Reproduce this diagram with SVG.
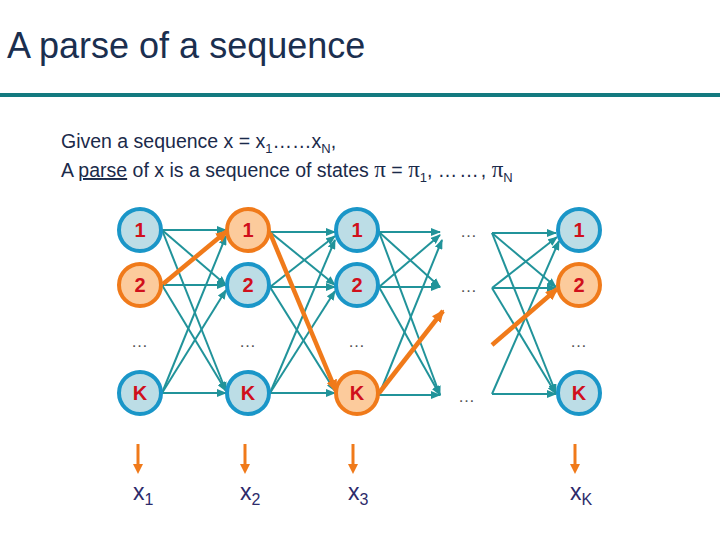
<svg xmlns="http://www.w3.org/2000/svg" width="720" height="540" viewBox="0 0 720 540">
<defs>
<marker id="ah" markerUnits="userSpaceOnUse" markerWidth="10" markerHeight="8" refX="9" refY="4" orient="auto">
<path d="M0,0 L10,4 L0,8 z" fill="#21939a"/>
</marker>
<marker id="ao" markerUnits="userSpaceOnUse" markerWidth="13" markerHeight="11" refX="11" refY="5.5" orient="auto">
<path d="M0,0 L13,5.5 L0,11 z" fill="#f07a1a"/>
</marker>
<style>
.t{font-family:"Liberation Sans",Arial,sans-serif}
.e{stroke:#21939a;stroke-width:2;fill:none;marker-end:url(#ah)}
.o{stroke:#f07a1a;stroke-width:4.5;fill:none;marker-end:url(#ao)}
.nb{fill:#bcdde6;stroke:#1a96c8;stroke-width:4}
.no{fill:#fccb9c;stroke:#f07a1a;stroke-width:4}
.lb{font-family:"Liberation Sans",Arial,sans-serif;font-size:20px;font-weight:bold;fill:#d0101c;text-anchor:middle}
.dt{font-family:"Liberation Sans",Arial,sans-serif;font-size:17px;fill:#555;text-anchor:middle;letter-spacing:1px}
.x{font-family:"Liberation Sans",Arial,sans-serif;font-size:23px;fill:#2d2b6b}
.em{stroke:#f07a1a;stroke-width:3}
.pi{font-family:"Liberation Serif",serif;font-size:23px}
</style>
</defs>
<rect width="720" height="540" fill="#fff"/>
<text class="t" x="7" y="58" font-size="36" fill="#1b2f4f">A parse of a sequence</text>
<rect x="0" y="93" width="720" height="4" fill="#137a7f"/>
<g class="t" font-size="19.5" fill="#1b2a4a">
<text x="61" y="148">Given a sequence x = x<tspan font-size="13" dy="5">1</tspan><tspan dy="-5">……x</tspan><tspan font-size="13" dy="5">N</tspan><tspan dy="-5">,</tspan></text>
<text x="61" y="177">A <tspan text-decoration="underline">parse</tspan> of x is a sequence of states <tspan class="pi">π</tspan> = <tspan class="pi">π</tspan><tspan font-size="13" dy="5">1</tspan><tspan dy="-5">, </tspan><tspan letter-spacing="2">……</tspan><tspan>, </tspan><tspan class="pi">π</tspan><tspan font-size="13" dy="5">N</tspan></text>
</g>
<g id="connectors">
<line class="e" x1="162" y1="230" x2="226" y2="230"/>
<line class="e" x1="162" y1="230" x2="226" y2="285"/>
<line class="e" x1="162" y1="230" x2="226" y2="391"/>
<line class="e" x1="162" y1="285" x2="226" y2="285"/>
<line class="e" x1="162" y1="285" x2="226" y2="391"/>
<line class="e" x1="162" y1="393" x2="226" y2="236"/>
<line class="e" x1="162" y1="393" x2="226" y2="290"/>
<line class="e" x1="162" y1="393" x2="226" y2="393"/>
<line class="e" x1="270" y1="232" x2="335" y2="232"/>
<line class="e" x1="270" y1="232" x2="335" y2="285"/>
<line class="e" x1="270" y1="287" x2="335" y2="236"/>
<line class="e" x1="270" y1="287" x2="335" y2="287"/>
<line class="e" x1="270" y1="287" x2="335" y2="391"/>
<line class="e" x1="270" y1="393" x2="335" y2="240"/>
<line class="e" x1="270" y1="393" x2="335" y2="291"/>
<line class="e" x1="270" y1="393" x2="335" y2="393"/>
<line class="e" x1="379" y1="232" x2="440" y2="232"/>
<line class="e" x1="379" y1="232" x2="440" y2="287"/>
<line class="e" x1="379" y1="232" x2="440" y2="395"/>
<line class="e" x1="379" y1="287" x2="440" y2="235"/>
<line class="e" x1="379" y1="287" x2="440" y2="287"/>
<line class="e" x1="379" y1="287" x2="440" y2="395"/>
<line class="e" x1="379" y1="395" x2="442" y2="240"/>
<line class="e" x1="379" y1="395" x2="440" y2="395"/>
<line class="e" x1="492" y1="233" x2="556" y2="233"/>
<line class="e" x1="492" y1="233" x2="556" y2="287"/>
<line class="e" x1="492" y1="233" x2="556" y2="393"/>
<line class="e" x1="492" y1="288" x2="557" y2="237"/>
<line class="e" x1="492" y1="288" x2="556" y2="288"/>
<line class="e" x1="492" y1="288" x2="556" y2="394"/>
<line class="e" x1="492" y1="394" x2="559" y2="241"/>
<line class="e" x1="492" y1="394" x2="556" y2="394"/>
<line class="o" x1="163" y1="284" x2="227" y2="231"/>
<line class="o" x1="270" y1="233" x2="336" y2="391"/>
<line class="o" x1="379" y1="393" x2="443" y2="311"/>
<line class="o" x1="492" y1="345" x2="557" y2="289"/>
</g>
<g id="n1-1"><circle class="nb" cx="140" cy="230" r="21"/><text class="lb" x="140" y="237">1</text></g>
<g id="n1-2"><circle class="no" cx="140" cy="285" r="21"/><text class="lb" x="140" y="292">2</text></g>
<g id="n1-K"><circle class="nb" cx="140" cy="393" r="21"/><text class="lb" x="140" y="400">K</text></g>
<g id="n2-1"><circle class="no" cx="248" cy="230" r="21"/><text class="lb" x="248" y="237">1</text></g>
<g id="n2-2"><circle class="nb" cx="248" cy="285" r="21"/><text class="lb" x="248" y="292">2</text></g>
<g id="n2-K"><circle class="nb" cx="248" cy="393" r="21"/><text class="lb" x="248" y="400">K</text></g>
<g id="n3-1"><circle class="nb" cx="357" cy="230" r="21"/><text class="lb" x="357" y="237">1</text></g>
<g id="n3-2"><circle class="nb" cx="357" cy="285" r="21"/><text class="lb" x="357" y="292">2</text></g>
<g id="n3-K"><circle class="no" cx="357" cy="393" r="21"/><text class="lb" x="357" y="400">K</text></g>
<g id="nN-1"><circle class="nb" cx="579" cy="230" r="21"/><text class="lb" x="579" y="237">1</text></g>
<g id="nN-2"><circle class="no" cx="579" cy="285" r="21"/><text class="lb" x="579" y="292">2</text></g>
<g id="nN-K"><circle class="nb" cx="579" cy="393" r="21"/><text class="lb" x="579" y="400">K</text></g>
<g id="dots">
<text class="dt" x="140" y="347">…</text>
<text class="dt" x="248" y="347">…</text>
<text class="dt" x="357" y="347">…</text>
<text class="dt" x="579" y="347">…</text>
<text class="dt" x="469" y="237">…</text>
<text class="dt" x="469" y="292">…</text>
<text class="dt" x="467" y="402">…</text>
</g>
<g id="emissions">
<line class="em" x1="138" y1="444" x2="138" y2="466"/><path d="M133,464 L143,464 L138,474 z" fill="#f07a1a"/>
<line class="em" x1="245" y1="444" x2="245" y2="466"/><path d="M240,464 L250,464 L245,474 z" fill="#f07a1a"/>
<line class="em" x1="353" y1="444" x2="353" y2="466"/><path d="M348,464 L358,464 L353,474 z" fill="#f07a1a"/>
<line class="em" x1="575" y1="444" x2="575" y2="466"/><path d="M570,464 L580,464 L575,474 z" fill="#f07a1a"/>
</g>
<g id="obs">
<text class="x" x="133" y="500">x<tspan font-size="16" dy="5">1</tspan></text>
<text class="x" x="240" y="500">x<tspan font-size="16" dy="5">2</tspan></text>
<text class="x" x="348" y="500">x<tspan font-size="16" dy="5">3</tspan></text>
<text class="x" x="570" y="500">x<tspan font-size="16" dy="5">K</tspan></text>
</g>
</svg>
